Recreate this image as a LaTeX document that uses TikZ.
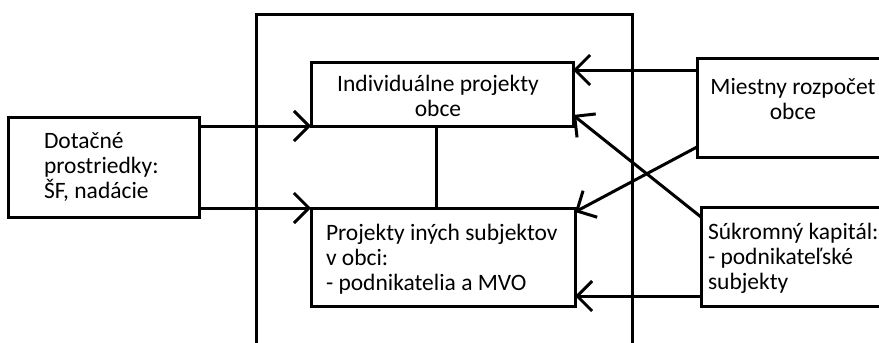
\documentclass[tikz,border=0pt]{standalone}
\usepackage{fontspec}
\setmainfont{Carlito}
\usetikzlibrary{arrows.meta}
\begin{document}
\begin{tikzpicture}[x=1pt,y=-1pt,
  box/.style={draw,line width=3pt,rectangle,inner sep=0pt,outer sep=0pt,anchor=north west},
  txt/.style={inner sep=0pt,outer sep=0pt,font=\fontsize{23.5}{25}\selectfont},
  arr/.style={line width=3pt,-{Straight Barb[length=15pt,width=30pt]}},
  plain/.style={line width=3pt}]
\useasboundingbox (0,0) rectangle (879,343);
\clip (0,0) rectangle (879,343);
% frame
\draw[plain] (256,345) -- (256,14) -- (632,14) -- (632,345);
% boxes
\node[box,minimum width=191pt,minimum height=100pt] (dot) at (8,117) {};
\node[box,minimum width=262pt,minimum height=64pt] (indiv) at (311,62) {};
\node[box,minimum width=264pt,minimum height=98pt] (proj) at (311,208) {};
\node[box,minimum width=192pt,minimum height=99pt] (miestny) at (697,58) {};
\node[box,minimum width=192pt,minimum height=99pt] (sukr) at (701,207) {};
% texts (base = baseline of last line)
\node[txt,anchor=base west,align=left] (tdot) at (44,198) {Dotačné\\prostriedky:\\ŠF, nadácie};
\node[txt,anchor=base,align=center] (tindiv) at (438,116) {Individuálne projekty\\obce};
\node[txt,anchor=base west,align=left] (tproj) at (326,290) {Projekty iných subjektov\\v obci:\\- podnikatelia a MVO};
\node[txt,anchor=base,align=center] (tmiestny) at (793,119) {Miestny rozpočet\\obce};
\node[txt,anchor=base west,align=left] (tsukr) at (708,289) {Súkromný kapitál:\\- podnikateľské\\subjekty};
% connectors
\draw[plain] (indiv.south -| 436,0) -- (proj.north -| 436,0);
\draw[arr] (dot.east |- indiv.south west) -- (indiv.south west);
\draw[arr] (dot.east |- proj.north west) -- (proj.north west);
\draw[arr] (miestny.west |- 0,70) -- (indiv.east |- 0,70);
\draw[arr] (miestny.west |- 0,147) -- (proj.east |- 0,212);
\draw[arr] (sukr.west |- 0,217) -- (indiv.east |- 0,115);
\draw[arr] (sukr.west |- 0,296) -- (proj.east |- 0,296);
\end{tikzpicture}
\end{document}
